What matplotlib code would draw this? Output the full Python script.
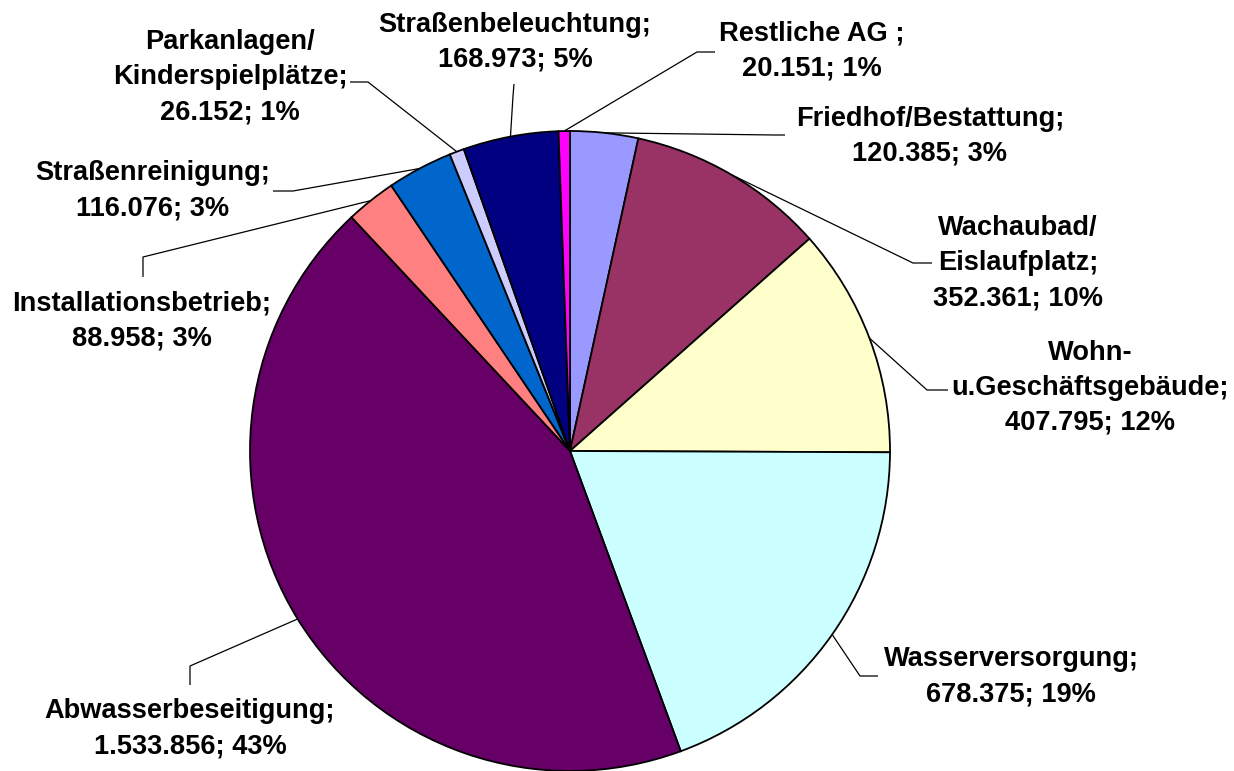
import numpy as np
import matplotlib
matplotlib.use("Agg")
import matplotlib.pyplot as plt

names = ["Friedhof/Bestattung", "Wachaubad/\nEislaufplatz", "Wohn-\nu.Geschäftsgebäude",
         "Wasserversorgung", "Abwasserbeseitigung", "Installationsbetrieb",
         "Straßenreinigung", "Parkanlagen/\nKinderspielplätze", "Straßenbeleuchtung",
         "Restliche AG "]
values = [120385, 352361, 407795, 678375, 1533856, 88958, 116076, 26152, 168973, 20151]
pct_labels = [3, 10, 12, 19, 43, 3, 3, 1, 5, 1]
colors = ["#9999FF", "#993366", "#FFFFCC", "#CCFFFF", "#660066",
          "#FF8080", "#0066CC", "#CCCCFF", "#000080", "#FF00FF"]

W, H = 1234, 771
cx, cy, r = 570, 451, 320   # pie centre / radius in image pixels

# label block centres and leader elbows, image pixels (y down)
label_pos = [(930, 136), (1018, 263), (1090, 388), (1011, 677), (190, 729),
             (142, 321), (153, 191), (230, 77), (515, 42), (812, 51)]
leader_pts = [[(775, 135), (785, 135)], [(913, 263), (932, 263)], [(927, 390), (948, 390)],
              [(860, 676), (878, 676)], [(190, 666), (190, 685)], [(143, 257), (143, 277)],
              [(293, 191), (273, 191)], [(368, 82), (350, 82)], [(513, 96), (514, 84)],
              [(697, 52), (715, 52)]]


def fmt(v):
    return f"{v:,}".replace(",", ".")


fig = plt.figure(figsize=(W / 100, H / 100), dpi=100)
ax = fig.add_axes([0, 0, 1, 1])
wedges, _ = ax.pie(values, colors=colors, startangle=90, counterclock=False,
                   center=(cx, H - cy), radius=r,
                   wedgeprops=dict(edgecolor="black", linewidth=1.3))
ax.set_xlim(0, W)
ax.set_ylim(0, H)
ax.set_aspect("equal")
ax.axis("off")

for w, name, v, p, (tx, ty), pts in zip(wedges, names, values, pct_labels, label_pos, leader_pts):
    mid = np.deg2rad((w.theta1 + w.theta2) / 2)
    sx = cx + r * np.cos(mid)
    sy = (H - cy) + r * np.sin(mid)
    xs = [sx] + [p_[0] for p_ in pts]
    ys = [sy] + [H - p_[1] for p_ in pts]
    ax.plot(xs, ys, color="black", lw=0.9, solid_capstyle="butt")
    ax.text(tx, H - ty, f"{name};\n{fmt(v)}; {p}%", ha="center", va="center",
            multialignment="center", fontsize=19.6, fontweight="bold",
            family=["Liberation Sans", "DejaVu Sans"], linespacing=1.45)

fig.savefig("out.png", dpi=100)
